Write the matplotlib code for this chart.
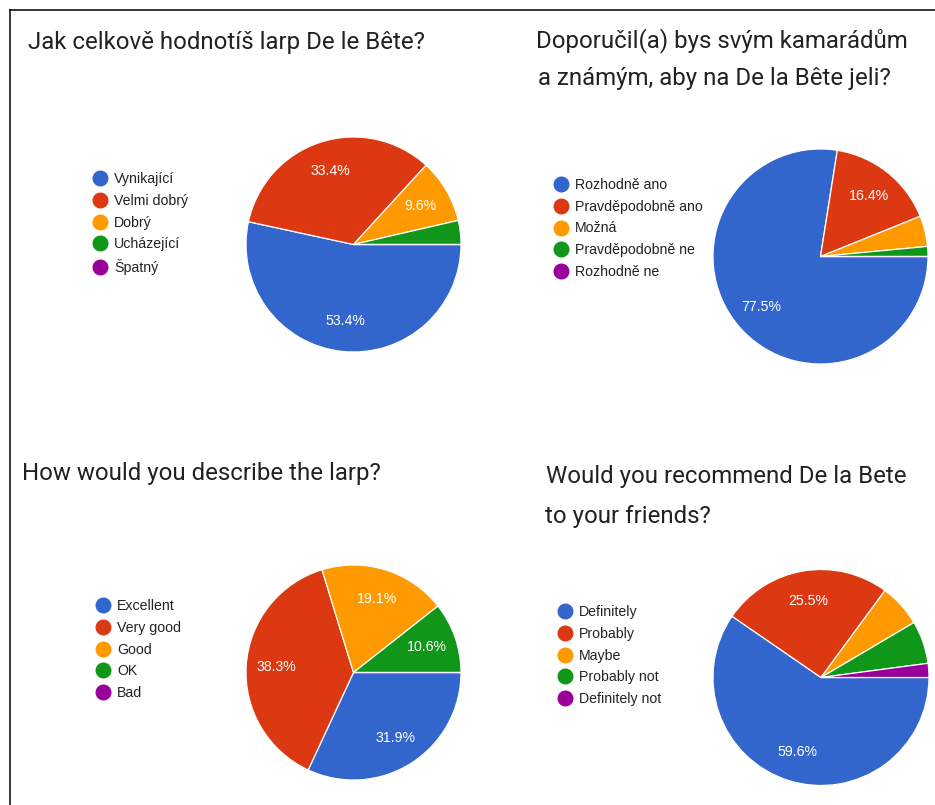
import matplotlib
matplotlib.use('Agg')
import matplotlib.pyplot as plt
from matplotlib.lines import Line2D

plt.rcParams['font.family'] = ['Roboto', 'DejaVu Sans']

# google forms palette
colors = ['#3366cc', '#dc3912', '#ff9900', '#109618', '#990099']

# chart data
title_cz1 = ['Jak celkově hodnotíš larp De le Bête?']
labels_cz1 = ['Vynikající', 'Velmi dobrý', 'Dobrý', 'Ucházející', 'Špatný']
values_cz1 = [53.4, 33.4, 9.6, 3.6, 0.0]

title_cz2 = ['Doporučil(a) bys svým kamarádům', 'a známým, aby na De la Bête jeli?']
labels_cz2 = ['Rozhodně ano', 'Pravděpodobně ano', 'Možná', 'Pravděpodobně ne', 'Rozhodně ne']
values_cz2 = [77.5, 16.4, 4.6, 1.5, 0.0]

title_en1 = ['How would you describe the larp?']
labels_en1 = ['Excellent', 'Very good', 'Good', 'OK', 'Bad']
values_en1 = [31.9, 38.3, 19.1, 10.6, 0.0]

title_en2 = ['Would you recommend De la Bete', 'to your friends?']
labels_en2 = ['Definitely', 'Probably', 'Maybe', 'Probably not', 'Definitely not']
values_en2 = [59.6, 25.5, 6.4, 6.4, 2.1]

W, H = 935, 805
fig = plt.figure(figsize=(W / 100, H / 100), dpi=100)
fig.patch.set_facecolor('white')

chart_font = ['Liberation Sans', 'DejaVu Sans']


def fx(px):
    return px / W


def fy(py):
    return 1 - py / H


def autopct(p):
    return f'{p:.1f}%' if p > 8 else ''


def panel(title, title_pos, labels, values, center, r, legend_xy):
    # title lines, pixel positions
    for line, (tx, ty) in zip(title, title_pos):
        fig.text(fx(tx), fy(ty), line, fontsize=17.3, color='#212121',
                 ha='left', va='baseline')

    ax = fig.add_axes([fx(center[0] - r), fy(center[1] + r), 2 * r / W, 2 * r / H])
    wedges, texts, autotexts = ax.pie(values, colors=colors, startangle=0, counterclock=False,
                                      autopct=autopct, pctdistance=0.72,
                                      wedgeprops=dict(edgecolor='white', linewidth=0.9),
                                      textprops=dict(color='white', fontsize=10.2,
                                                     family=chart_font))
    ax.set_xlim(-1, 1)
    ax.set_ylim(-1, 1)
    ax.set_aspect('equal')

    handles = [Line2D([], [], marker='o', linestyle='', markersize=10.5, color=c) for c in colors]
    ax.legend(handles, labels, loc='center left',
              bbox_to_anchor=(fx(legend_xy[0] - 7), fy(legend_xy[1])),
              bbox_transform=fig.transFigure, frameon=False,
              prop=dict(family=chart_font, size=10.2),
              borderpad=0, borderaxespad=0, handlelength=1.0, handletextpad=0.5,
              labelspacing=0.56, labelcolor='#222222')


panel(title_cz1, [(28, 49)], labels_cz1, values_cz1, (353.5, 244.5), 107.5, (100, 223.5))
panel(title_cz2, [(535.5, 47.5), (537.5, 85)], labels_cz2, values_cz2,
      (820.5, 256.5), 107.5, (561, 228.5))
panel(title_en1, [(22, 480)], labels_en1, values_en1, (353.5, 672.5), 107.5, (103, 649.5))
panel(title_en2, [(546.5, 482.5), (545, 523)], labels_en2, values_en2,
      (821, 677.5), 108, (565, 655.5))

# screenshot frame: left and top edge
fig.add_artist(Line2D([fx(9.5), fx(9.5)], [fy(10), fy(H)], color='black', linewidth=1.1))
fig.add_artist(Line2D([fx(9.5), fx(W)], [fy(10), fy(10)], color='black', linewidth=1.1))

fig.savefig('out.png', dpi=100, facecolor='white')
